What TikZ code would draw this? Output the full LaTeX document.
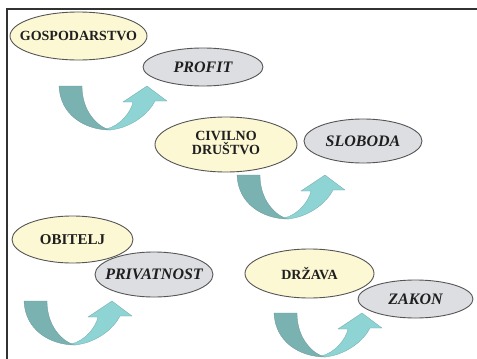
\documentclass[tikz,border=0pt]{standalone}
\usepackage{fontspec}
\setmainfont{Liberation Serif}
\newfontfamily\tms{Liberation Serif}
\usetikzlibrary{shapes.geometric}
\definecolor{ylw}{RGB}{252,248,212}
\definecolor{gry}{RGB}{220,222,226}
\definecolor{tealD}{RGB}{122,178,178}
\definecolor{tealL}{RGB}{142,212,212}
\definecolor{edgec}{RGB}{85,85,85}
\definecolor{framec}{RGB}{50,50,50}
\tikzset{
  ell/.style={ellipse, draw=edgec, line width=0.9pt, inner sep=0pt, text=black!88},
  yel/.style={ell, fill=ylw, font=\tms\fontsize{14}{15}\selectfont\bfseries},
  gra/.style={ell, fill=gry, font=\tms\fontsize{16}{18}\selectfont\bfseries\itshape},
  pics/uturn/.style={code={
    \path[fill=tealD, draw=tealD!85!black, line width=0.3pt]
      (-51,-44) .. controls (-50,-15) and (-25,0) .. (0,0)
      .. controls (-12,-3) and (-28,-18) .. (-28,-44) -- cycle;
    \path[fill=tealL, draw=tealL!80!black, line width=0.3pt]
      (0,0) .. controls (20,-2) and (38,-15) .. (45,-29) -- (57,-29) -- (37,-44)
      -- (13,-28) -- (23,-28) .. controls (21,-18) and (10,-4) .. (-4,-1) -- cycle;
  }},
  framel/.style={draw=framec, line width=2pt}
}
\newcommand{\zb}[1]{\makebox[0pt]{#1}}
\begin{document}
\begin{tikzpicture}[x=1pt,y=-1pt]
\useasboundingbox (0,0) rectangle (477,359);
\fill[white] (0,0) rectangle (477,359);
% frame
\coordinate (fl) at (7,359);
\coordinate (fc) at (7,9);
\coordinate (fr) at (477,9);
\draw[framel] (fl) -- (fc) -- (fr);
% arrows
\coordinate (a1) at (110,130);
\coordinate (a2) at (288,219);
\coordinate (a3) at (75,345);
\coordinate (a4) at (325,357);
\pic at (a1) {uturn};
\pic at (a2) {uturn};
\pic at (a3) {uturn};
\pic at (a4) {uturn};
% ellipses
\node[yel, minimum width=137pt, minimum height=48pt] (gosp) at (78.5,36) {\zb{GOSPODARSTVO}};
\node[gra, minimum width=120pt, minimum height=38pt] (profit) at (203,67) {\zb{PROFIT}};
\node[yel, minimum width=142pt, minimum height=55pt] (civ) at (226,144.5) {\zb{\begin{tabular}{@{}c@{}}CIVILNO\\[-2pt]DRUŠTVO\end{tabular}}};
\node[gra, minimum width=118pt, minimum height=44pt] (slob) at (363,141) {\zb{SLOBODA}};
\node[yel, minimum width=121pt, minimum height=47pt, font=\tms\fontsize{15}{16}\selectfont\bfseries] (obit) at (72.5,239.5) {\zb{OBITELJ}};
\node[gra, minimum width=118pt, minimum height=45pt] (priv) at (154,274.5) {\zb{PRIVATNOST}};
\node[yel, minimum width=129pt, minimum height=49pt] (drz) at (309.5,273.5) {\zb{DRŽAVA}};
\node[gra, minimum width=115pt, minimum height=38pt] (zak) at (415.5,299) {\zb{ZAKON}};
\end{tikzpicture}
\end{document}
